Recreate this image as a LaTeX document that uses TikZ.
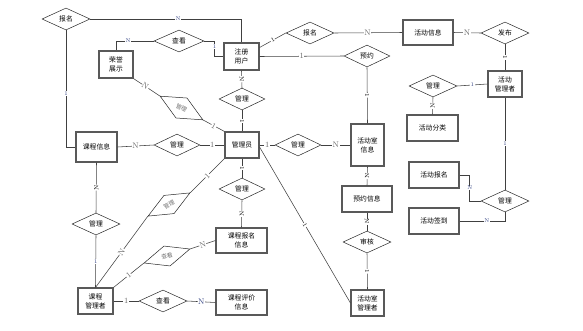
\documentclass[tikz,border=0pt]{standalone}
\usepackage{fontspec}
\newfontfamily\cjk{Noto Sans CJK SC}
\usetikzlibrary{shapes.geometric}
\begin{document}
\begin{tikzpicture}[x=1pt,y=-1pt,
  ent/.style={draw=black!65, line width=1.1pt, fill=white, inner sep=0pt, align=center,
    font=\cjk\fontsize{6.8}{9}\selectfont},
  rel/.style={draw=black!85, line width=0.5pt, diamond, fill=white, inner sep=0pt,
    minimum width=48pt, minimum height=22pt, font=\cjk\fontsize{6.8}{8}\selectfont},
  trel/.style={rel, text=black!55, font=\cjk\fontsize{5.8}{7}\selectfont},
  ln/.style={draw=black!75, line width=0.55pt},
  cbig/.style={fill=white, inner sep=0.6pt, text=black!60, font=\fontsize{8}{8}\selectfont},
  csm/.style={fill=white, inner sep=0.6pt, text={rgb,255:red,50;green,65;blue,130}, font=\fontsize{5.5}{5.5}\selectfont},
  crot/.style={fill=white, inner sep=0.4pt, text=black, font=\fontsize{6}{6}\selectfont, sloped},
  cslant/.style={crot, text=black!60, font=\fontsize{8}{8}\selectfont}
]
\useasboundingbox (0,0) rectangle (583,330);

% entities
\node[ent, minimum width=34pt, minimum height=27pt] (fame) at (116,64.5) {荣誉\\展示};
\node[ent, minimum width=35pt, minimum height=27pt] (reguser) at (241.5,56.5) {注册\\用户};
\node[ent, minimum width=50pt, minimum height=25pt] (actinfo) at (428,32.5) {活动信息};
\node[ent, minimum width=34pt, minimum height=26pt] (actmgr) at (505,84) {活动\\管理者};
\node[ent, minimum width=51pt, minimum height=26pt] (actcat) at (432.5,128) {活动分类};
\node[ent, minimum width=34pt, minimum height=26pt] (admin) at (242,145) {管理员};
\node[ent, minimum width=41pt, minimum height=30pt] (course) at (96.5,147) {课程信息};
\node[ent, minimum width=33pt, minimum height=42pt] (room) at (367.5,145) {活动室\\信息};
\node[ent, minimum width=50pt, minimum height=26pt] (reserve) at (367,199) {预约信息};
\node[ent, minimum width=33pt, minimum height=26pt] (roommgr) at (367.5,303) {活动室\\管理者};
\node[ent, minimum width=51pt, minimum height=25pt] (cenroll) at (241.5,240.5) {课程报名\\信息};
\node[ent, minimum width=35pt, minimum height=26pt] (cmgr) at (95.5,301) {课程\\管理者};
\node[ent, minimum width=51pt, minimum height=25pt] (ceval) at (241.5,302.5) {课程评价\\信息};
\node[ent, minimum width=50pt, minimum height=26pt] (actenroll) at (434,175) {活动报名};
\node[ent, minimum width=50pt, minimum height=26pt] (actsign) at (434,221) {活动签到};

% relationships
\node[rel] (r1) at (66,19) {报名};
\node[rel, minimum width=50pt] (r2) at (179,41) {查看};
\node[rel] (r3) at (310,33) {报名};
\node[rel] (r4) at (505,33) {发布};
\node[rel, minimum width=46pt] (r5) at (367,56) {预约};
\node[rel] (r6) at (433,86) {管理};
\node[rel, minimum width=46pt] (r7) at (242,99) {管理};
\node[rel, minimum width=46pt] (r8) at (177,145) {管理};
\node[rel, minimum width=46pt] (r9) at (298,145) {管理};
\node[rel] (r10) at (367,242) {审核};
\node[rel, minimum width=46pt] (r11) at (242,189) {管理};
\node[rel] (r12) at (96,224) {管理};
\node[rel] (r13) at (163,301) {查看};
\node[rel] (r14) at (505,201) {管理};
\node[trel, rotate=-29, minimum width=49pt, minimum height=23pt] (t1) at (181.5,108) {管理};
\node[trel, rotate=29, minimum width=48pt, minimum height=21pt] (t2) at (169,204.5) {管理};
\node[trel, rotate=17, minimum width=48pt, minimum height=21pt] (t3) at (167,256) {查看};

% connectors
\draw[ln] (r1.east) -| (reguser.north) node[csm, pos=0.29] {N};
\draw[ln] (r1.south) |- (course.west) node[csm, pos=0.27] {1};
\draw[ln] (r2.west) -| (fame.north) node[csm, pos=0.34] {N};
\draw[ln] (r2.east) -| ([xshift=-9pt]reguser.west) node[csm, pos=0.67] {1} -- (reguser.west);
\draw[ln] ([yshift=9pt]reguser.east) -- (r3.west) node[crot, pos=0.5] {1};
\draw[ln] (r3.east) -- (actinfo.west) node[cbig, pos=0.49] {N};
\draw[ln] (reguser.east) -- (r5.west) node[cbig, pos=0.5] {1};
\draw[ln] (r5.south) -- (room.north) node[crot, pos=0.5] {1};
\draw[ln] (actinfo.east) -- (r4.west) node[cbig, pos=0.5] {N};
\draw[ln] (r4.south) -- (actmgr.north) node[crot, pos=0.5] {1};
\draw[ln] (r6.east) -- (actmgr.west) node[csm, pos=0.5] {1};
\draw[ln] (r6.south) -- (actcat.north) node[crot, pos=0.5] {N};
\draw[ln] (actmgr.south) -- (r14.north) node[csm, pos=0.5] {1};
\draw[ln] (actenroll.east) -| ([xshift=-11pt]r14.west) node[csm, pos=0.75] {N} -- (r14.west);
\draw[ln] (actsign.east) -| (r14.south) node[csm, pos=0.3] {N};
\draw[ln] (reguser.south) -- (r7.north) node[crot, pos=0.5] {N};
\draw[ln] (r7.south) -- (admin.north) node[crot, pos=0.5] {1};
\draw[ln] (admin.west) -- (r8.east) node[cbig, pos=0.5] {1};
\draw[ln] (r8.west) -- (course.east) node[cbig, pos=0.5] {N};
\draw[ln] (admin.east) -- (r9.west) node[cbig, pos=0.5] {1};
\draw[ln] (r9.east) -- (room.west) node[cbig, pos=0.5] {N};
\draw[ln] (room.south) -- (reserve.north) node[crot, pos=0.5] {N};
\draw[ln] (reserve.south) -- (r10.north) node[crot, pos=0.5] {N};
\draw[ln] (r10.south) -- (roommgr.north) node[crot, pos=0.5] {1};
\draw[ln] ([yshift=-2pt]admin.east) -- (roommgr.west) node[crot, pos=0.5] {1};
\draw[ln] (admin.south) -- (r11.north) node[crot, pos=0.5] {1};
\draw[ln] (r11.south) -- (cenroll.north) node[crot, pos=0.5] {N};
\draw[ln] (fame.south east) -- (t1.west) node[cslant, pos=0.45] {N};
\draw[ln] (t1.east) -- (admin.north west) node[cslant, pos=0.5] {1};
\draw[ln] (admin.south west) -- (t2.east) node[cslant, pos=0.5] {1};
\draw[ln] (t2.west) -- (cmgr.north) node[cslant, pos=0.5] {N};
\draw[ln] (course.south) -- (r12.north) node[crot, pos=0.5] {N};
\draw[ln] (r12.south) -- (cmgr.north) node[csm, pos=0.5] {1};
\draw[ln] (cmgr.north east) -- (t3.west) node[cslant, pos=0.5] {1};
\draw[ln] (t3.east) -- (cenroll.west) node[cslant, pos=0.5] {N};
\draw[ln] (cmgr.east) -- (r13.west) node[cbig, pos=0.5] {1};
\draw[ln] (r13.east) -- (ceval.west) node[cbig, text={rgb,255:red,50;green,65;blue,130}, pos=0.5] {N};
\end{tikzpicture}
\end{document}
